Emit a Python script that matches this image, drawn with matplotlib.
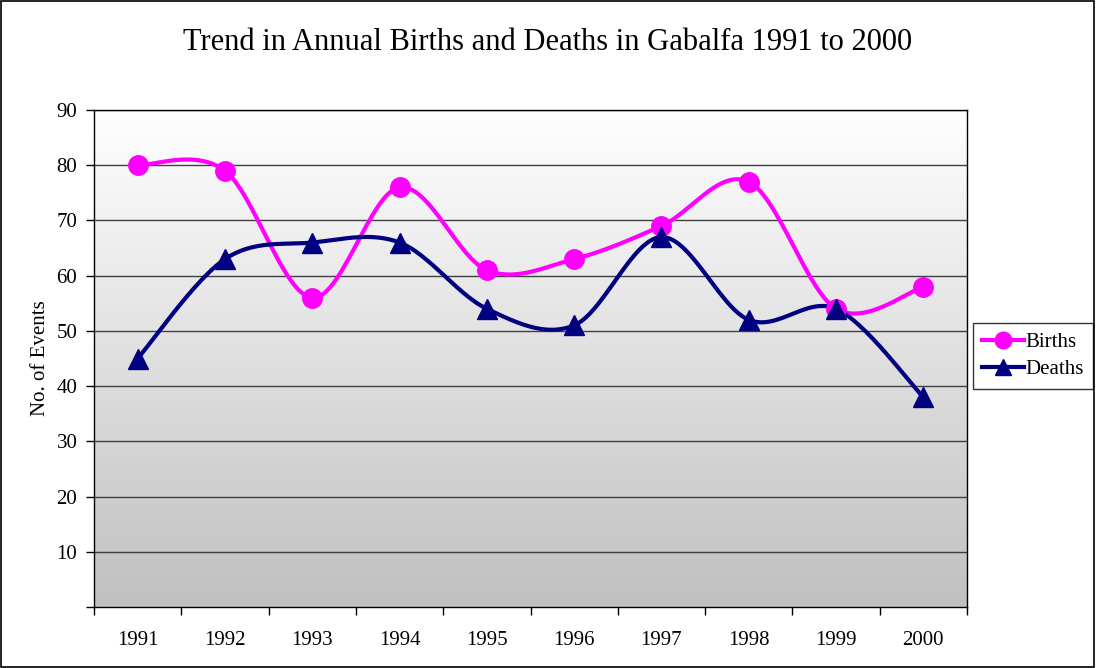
import numpy as np
import matplotlib
matplotlib.use("Agg")
import matplotlib.pyplot as plt
from matplotlib.lines import Line2D
from matplotlib.patches import Rectangle
from matplotlib.colors import LinearSegmentedColormap

years = ["1991", "1992", "1993", "1994", "1995", "1996", "1997", "1998", "1999", "2000"]
births = [80, 79, 56, 76, 61, 63, 69, 77, 54, 58]
deaths = [45, 63, 66, 66, 54, 51, 67, 52, 54, 38]

plt.rcParams['font.family'] = ['Liberation Serif', 'DejaVu Serif']

def smooth(xs, ys, n=30):
    xs = np.asarray(xs, float); ys = np.asarray(ys, float)
    outx, outy = [], []
    N = len(xs)
    for i in range(N - 1):
        p0 = np.array([xs[i], ys[i]])
        p3 = np.array([xs[i + 1], ys[i + 1]])
        pm = np.array([xs[i - 1], ys[i - 1]]) if i > 0 else p0
        pp = np.array([xs[i + 2], ys[i + 2]]) if i + 2 < N else p3
        c1 = p0 + (p3 - pm) / 6.0
        c2 = p3 - (pp - p0) / 6.0
        t = np.linspace(0, 1, n)[:, None]
        pts = ((1 - t) ** 3) * p0 + 3 * ((1 - t) ** 2) * t * c1 + 3 * (1 - t) * t ** 2 * c2 + t ** 3 * p3
        if i > 0:
            pts = pts[1:]
        outx.extend(pts[:, 0]); outy.extend(pts[:, 1])
    return np.array(outx), np.array(outy)

fig = plt.figure(figsize=(10.96, 6.68), dpi=100)
fig.patch.set_facecolor('white')
fig.add_artist(Rectangle((0.001, 0.002), 0.997, 0.996, transform=fig.transFigure,
                         fill=False, edgecolor='black', linewidth=1.2, zorder=10))

ax = fig.add_axes([94/1096, 1 - 607/668, (967-94)/1096, (607-110)/668])
x = np.arange(len(years))
ax.set_xlim(-0.5, len(years) - 0.5)
ax.set_ylim(0, 90)

grad = np.linspace(0, 1, 256)[:, None]
cmap = LinearSegmentedColormap.from_list('g', ['#c0c0c0', '#ffffff'])
ax.imshow(grad, extent=[-0.5, len(years) - 0.5, 0, 90], origin='lower',
          aspect='auto', cmap=cmap, zorder=0, vmin=0, vmax=1)

for yv in range(10, 91, 10):
    ax.axhline(yv, color='#404040', linewidth=1.0, zorder=1)

bx, by = smooth(x, births)
dx, dy = smooth(x, deaths)
ax.plot(bx, by, color='#ff00ff', linewidth=3, zorder=3, solid_capstyle='round')
ax.plot(x, births, linestyle='none', marker='o', markersize=14, color='#ff00ff', zorder=4)
ax.plot(dx, dy, color='#000080', linewidth=3, zorder=3, solid_capstyle='round')
ax.plot(x, deaths, linestyle='none', marker='^', markersize=14, color='#000080', zorder=4)

ax.set_yticks(range(10, 91, 10))
ax.set_yticklabels([str(v) for v in range(10, 91, 10)], fontsize=15)
ax.set_yticks([0], minor=True)
ax.tick_params(axis='y', which='both', direction='out', length=6, width=1, pad=6)
ax.set_xticks(np.arange(-0.5, len(years), 1.0))
ax.set_xticklabels([])
ax.set_xticks(x, minor=True)
ax.set_xticklabels(years, minor=True, fontsize=15)
ax.tick_params(axis='x', which='major', direction='out', length=6, width=1)
ax.tick_params(axis='x', which='minor', length=0, pad=17)

for s in ['top', 'right', 'left', 'bottom']:
    ax.spines[s].set_color('black')
    ax.spines[s].set_linewidth(1)

ax.set_ylabel('No. of Events', fontsize=15, labelpad=5)

fig.text(0.5, 1 - 42/668, 'Trend in Annual Births and Deaths in Gabalfa 1991 to 2000',
         ha='center', va='center', fontsize=22)

handles = [Line2D([0], [0], color='#ff00ff', lw=3, marker='o', markersize=12),
           Line2D([0], [0], color='#000080', lw=3, marker='^', markersize=12)]
leg = fig.legend(handles, ['Births', 'Deaths'], loc='center left',
                 bbox_to_anchor=(973/1096, 1 - 356/668), fontsize=15,
                 frameon=True, fancybox=False, edgecolor='black', handlelength=2.0,
                 handletextpad=0.05, borderpad=0.45, labelspacing=0.35, borderaxespad=0)
leg.get_frame().set_linewidth(1)

fig.savefig('out.png', dpi=100)
